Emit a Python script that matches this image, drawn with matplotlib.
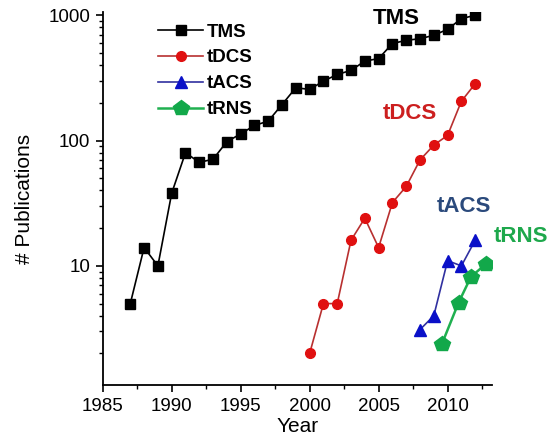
import matplotlib
matplotlib.use("Agg")
import matplotlib.pyplot as plt
from matplotlib.ticker import FixedLocator, NullFormatter, LogLocator

plt.rcParams["font.family"] = ["Liberation Sans", "DejaVu Sans"]

# publication counts
tms_years = list(range(1987, 2013))
tms_counts = [5, 14, 10, 38, 80, 67, 71, 98, 113, 132, 143, 194, 264, 256,
              298, 337, 363, 431, 451, 595, 631, 650, 692, 773, 940, 1000]

tdcs_years = list(range(2000, 2013))
tdcs_counts = [2, 5, 5, 16, 24, 14, 32, 43, 70, 92, 110, 206, 284]

tacs_years = [2008, 2009, 2010, 2011, 2012]
tacs_counts = [3.1, 4, 11, 10, 16]

trns_years = [2009.6, 2010.8, 2011.7, 2012.8]
trns_counts = [2.4, 5.1, 8.2, 10.4]

fig = plt.figure(figsize=(5.54, 4.48), dpi=100)
ax = fig.add_axes([0.1854, 0.1406, 0.7022, 0.8324])

ax.plot(tms_years, tms_counts, color="black", lw=1.2, marker="s", ms=6.8,
        mfc="black", mec="black", label="TMS")
ax.plot(tdcs_years, tdcs_counts, color="#b83030", lw=1.2, marker="o", ms=7,
        mfc="#e01010", mec="#e01010", label="tDCS")
ax.plot(tacs_years, tacs_counts, color="#3030a0", lw=1.2, marker="^", ms=8,
        mfc="#0a10c8", mec="#0a10c8", label="tACS")
ax.plot(trns_years, trns_counts, color="#20b050", lw=1.8, marker="p", ms=11.5,
        mfc="#12a84a", mec="#12a84a", label="tRNS")

ax.set_yscale("log")
ax.set_xlim(1985, 2013.2)
ax.set_ylim(1.12, 1060)

ax.set_xticks([1985, 1990, 1995, 2000, 2005, 2010])
ax.xaxis.set_minor_locator(FixedLocator([1987.5, 1992.5, 1997.5, 2002.5, 2007.5, 2012.5]))
ax.set_yticks([10, 100, 1000])
ax.set_yticklabels(["10", "100", "1000"])
ax.yaxis.set_minor_locator(LogLocator(base=10, subs=range(2, 10)))
ax.yaxis.set_minor_formatter(NullFormatter())

ax.tick_params(axis="both", which="major", labelsize=13.5, length=5, width=1.2, pad=4)
ax.tick_params(axis="both", which="minor", length=3, width=1.0)

for side in ("top", "right"):
    ax.spines[side].set_visible(False)
for side in ("left", "bottom"):
    ax.spines[side].set_linewidth(1.3)

ax.set_xlabel("Year", fontsize=15, labelpad=2)
ax.set_ylabel("# Publications", fontsize=15, labelpad=10)

leg = ax.legend(loc="upper left", bbox_to_anchor=(0.1, 1.015), frameon=False,
                handlelength=2.4, handletextpad=0.15, labelspacing=0.47,
                prop={"weight": "bold", "size": 13.5})

ax.text(2006.3, 950, "TMS", color="black", fontsize=16, fontweight="bold",
        ha="center", va="center")
ax.text(2007.3, 165, "tDCS", color="#cc1f1f", fontsize=16, fontweight="bold",
        ha="center", va="center")
ax.text(2011.2, 30, "tACS", color="#2b4a7c", fontsize=16, fontweight="bold",
        ha="center", va="center")
ax.text(2015.3, 17, "tRNS", color="#1ea84c", fontsize=16, fontweight="bold",
        ha="center", va="center", clip_on=False)

fig.savefig("out.png", dpi=100)
